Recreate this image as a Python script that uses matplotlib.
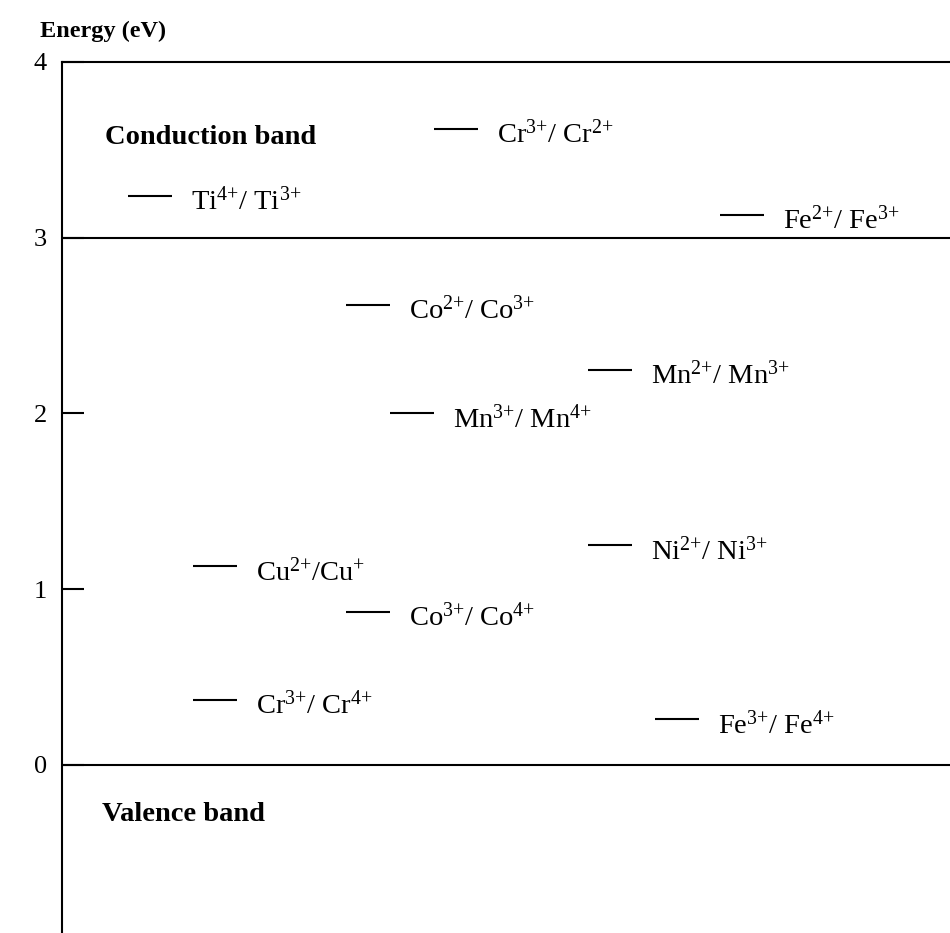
import matplotlib
matplotlib.use("Agg")
import matplotlib.pyplot as plt

plt.rcParams['font.family'] = ['Liberation Serif', 'DejaVu Serif']
plt.rcParams['mathtext.fontset'] = 'custom'
plt.rcParams['mathtext.rm'] = 'Liberation Serif'
plt.rcParams['mathtext.it'] = 'Liberation Serif:italic'
plt.rcParams['mathtext.bf'] = 'Liberation Serif:bold'

# Redox levels (energy above valence band, eV)
labels = [
    r'Cr$^{\mathrm{3{+}}}$/ Cr$^{\mathrm{2{+}}}$',
    r'Ti$^{\mathrm{4{+}}}$/ Ti$^{\mathrm{3{+}}}$',
    r'Fe$^{\mathrm{2{+}}}$/ Fe$^{\mathrm{3{+}}}$',
    r'Co$^{\mathrm{2{+}}}$/ Co$^{\mathrm{3{+}}}$',
    r'Mn$^{\mathrm{2{+}}}$/ Mn$^{\mathrm{3{+}}}$',
    r'Mn$^{\mathrm{3{+}}}$/ Mn$^{\mathrm{4{+}}}$',
    r'Ni$^{\mathrm{2{+}}}$/ Ni$^{\mathrm{3{+}}}$',
    r'Cu$^{\mathrm{2{+}}}$/Cu$^{\mathrm{{+}}}$',
    r'Co$^{\mathrm{3{+}}}$/ Co$^{\mathrm{4{+}}}$',
    r'Cr$^{\mathrm{3{+}}}$/ Cr$^{\mathrm{4{+}}}$',
    r'Fe$^{\mathrm{3{+}}}$/ Fe$^{\mathrm{4{+}}}$',
]
energies = [3.62, 3.24, 3.13, 2.62, 2.25, 2.0, 1.25, 1.13, 0.87, 0.37, 0.26]
# horizontal placement of each level marker (layout units along the x axis)
columns = [372, 66, 658, 284, 526, 328, 526, 131, 284, 131, 593]

conduction_band_min = 3.0
valence_band_max = 0.0
yticks = [0, 1, 2, 3, 4]

fig = plt.figure(figsize=(9.5, 9.33), dpi=100)
ax = fig.add_axes([62/950, 0.0, 1 - 62/950, 1 - 62/933])
ax.set_xlim(0, 888)
ax.set_ylim(-0.956, 4)

for s in ['right', 'bottom']:
    ax.spines[s].set_visible(False)
for s in ['left', 'top']:
    ax.spines[s].set_linewidth(1.5)

ax.axhline(conduction_band_min, color='black', lw=1.5)
ax.axhline(valence_band_max, color='black', lw=1.5)

bar_len = 44
for lab, e, x in zip(labels, energies, columns):
    ax.plot([x, x + bar_len], [e, e], color='black', lw=1.5, solid_capstyle='butt')
    ax.annotate(lab, xy=(x + bar_len, e), xytext=(14, -10), textcoords='offset points',
                fontsize=20.5, va='baseline', ha='left')

ax.set_yticks(yticks)
ax.set_yticklabels([str(t) for t in yticks], fontsize=19)
ax.set_xticks([])
ax.tick_params(axis='y', direction='in', length=16, width=1.5, pad=11)

ax.text(43, 3.57, 'Conduction band', fontsize=20.5, fontweight='bold', va='center', ha='left')
ax.text(40, -0.28, 'Valence band', fontsize=20.5, fontweight='bold', va='center', ha='left')
fig.text(40/950, 1 - 31/933, 'Energy (eV)', fontsize=17.5, fontweight='bold', va='center', ha='left')

fig.savefig('out.png', dpi=100)
